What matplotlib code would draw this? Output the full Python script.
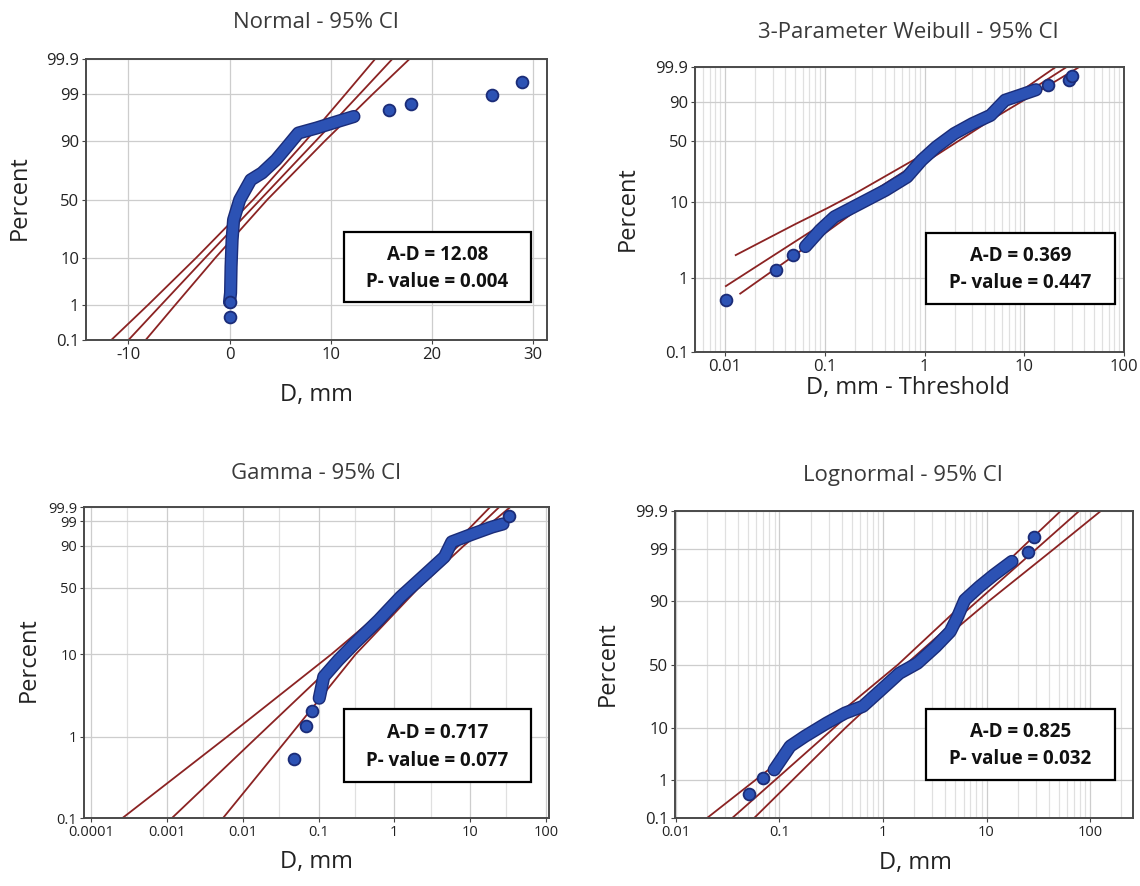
import numpy as np
import matplotlib
matplotlib.use("Agg")
import matplotlib.pyplot as plt
from matplotlib.patches import Rectangle
from matplotlib.ticker import LogLocator, NullFormatter, NullLocator
from statistics import NormalDist

plt.rcParams['font.family'] = ['Open Sans', 'DejaVu Sans']

# ---------------- data ----------------
# Normal - 95% CI
norm_band_x = [0.0, 0.1, 0.15, 0.25, 0.4, 1.0, 2.1, 3.2, 4.6, 5.7, 6.8, 8.6, 10.7, 12.3]
norm_band_pct = [1.2, 2.0, 7.0, 18.7, 32.7, 49.7, 66.7, 72.0, 80.9, 87.8, 92.8, 94.2, 95.7, 96.6]
norm_dot_x = [0.0, 0.0, 15.8, 17.9, 26.0, 28.9]
norm_dot_pct = [0.5, 1.2, 97.6, 98.2, 98.9, 99.5]
norm_line_pct = [0.1, 1, 10, 50, 90, 99, 99.9]
norm_fit_x = [-10.0, -6.8, -2.4, 3.05, 8.5, 12.9, 16.1]
norm_lo_x = [-11.7, -8.1, -3.3, 2.35, 7.5, 11.5, 14.4]
norm_hi_x = [-8.3, -5.4, -1.4, 3.75, 9.4, 14.2, 17.8]

# 3-Parameter Weibull - 95% CI
weib_band_x = [0.064, 0.090, 0.125, 0.225, 0.405, 0.668, 0.935, 1.31, 1.99, 3.02, 4.59, 6.42, 8.97, 13.1]
weib_band_pct = [2.6, 4.3, 6.4, 9.5, 14.0, 20.4, 31.8, 43.9, 58.3, 69.6, 78.6, 91.5, 94.3, 96.7]
weib_dot_x = [0.0102, 0.0328, 0.0479, 17.5, 27.8, 30.2]
weib_dot_pct = [0.5, 1.25, 2.0, 98.0, 99.06, 99.5]
weib_fit_x = [0.0102, 26.6]
weib_fit_pct = [0.77, 99.9]
weib_lo_x = [0.0128, 0.05, 0.106, 0.2, 1.0, 5.0, 20.7]
weib_lo_pct = [2.0, 5.1, 8.3, 12.7, 37.4, 84.2, 99.9]
weib_hi_x = [0.0142, 0.05, 0.2, 1.0, 5.0, 35.6]
weib_hi_pct = [0.61, 2.0, 7.5, 29.8, 75.9, 99.9]

# Gamma - 95% CI
gam_band_x = [0.102, 0.117, 0.182, 0.301, 0.62, 1.21, 2.36, 4.59, 5.73, 11.2, 19.5, 27.2]
gam_band_pct = [2.97, 5.4, 8.5, 13.4, 24.2, 41.6, 61.3, 81.3, 92.3, 96.1, 98.0, 98.6]
gam_dot_x = [0.048, 0.069, 0.082, 32.2]
gam_dot_pct = [0.53, 1.34, 2.08, 99.5]
gam_line_pct = [0.1, 1, 10, 50, 90, 99.9]
gam_fit_x = [1.16e-3, 0.0155, 0.219, 1.82, 7.05, 24.3]
gam_lo_x = [2.58e-4, 6.18e-3, 0.148, 1.59, 5.86, 18.4]
gam_hi_x = [5.48e-3, 0.0408, 0.309, 2.09, 8.28, 34.0]

# Lognormal - 95% CI
logn_band_x = [0.089, 0.127, 0.176, 0.286, 0.43, 0.64, 0.96, 1.44, 2.15, 3.23, 4.46, 5.24, 6.16, 8.5, 11.7, 17.6]
logn_band_pct = [1.7, 5.0, 7.4, 11.9, 16.4, 20.0, 30.5, 43.0, 51.0, 64.0, 74.6, 83.0, 90.3, 94.1, 96.4, 98.1]
logn_dot_x = [0.051, 0.070, 25.3, 29.0]
logn_dot_pct = [0.47, 1.1, 98.8, 99.5]
logn_line_pct = [0.1, 1, 10, 50, 90, 99, 99.9]
logn_fit_x = [0.035, 0.0908, 0.334, 1.66, 8.22, 30.3, 78.5]
logn_lo_x = [0.020, 0.0586, 0.254, 1.40, 6.38, 21.4, 52.0]
logn_hi_x = [0.057, 0.134, 0.431, 1.97, 10.6, 44.8, 127.0]

# goodness of fit text
stats = {
    'normal': ("A-D = 12.08", "P- value = 0.004"),
    'weibull': ("A-D = 0.369", "P- value = 0.447"),
    'gamma': ("A-D = 0.717", "P- value = 0.077"),
    'lognormal': ("A-D = 0.825", "P- value = 0.032"),
}

# ---------------- probability scales ----------------
_nd = NormalDist()


def norm_fwd(p):
    p = np.clip(np.asarray(p, dtype=float) / 100.0, 1e-9, 1 - 1e-9)
    return np.vectorize(_nd.inv_cdf, otypes=[float])(p)


def norm_inv(z):
    return 100.0 * np.vectorize(_nd.cdf, otypes=[float])(np.asarray(z, dtype=float))


def sev_fwd(p):
    p = np.clip(np.asarray(p, dtype=float) / 100.0, 1e-9, 1 - 1e-9)
    return np.log(-np.log1p(-p))


def sev_inv(w):
    return 100.0 * (-np.expm1(-np.exp(np.asarray(w, dtype=float))))


# ---------------- figure ----------------
W, H = 1140, 886
fig = plt.figure(figsize=(W / 100, H / 100), dpi=100)


def px_axes(x0, y0, x1, y1):
    return fig.add_axes([x0 / W, 1 - y1 / H, (x1 - x0) / W, (y1 - y0) / H])


def px_text(x, y, s, **kw):
    fig.text(x / W, 1 - y / H, s, ha='center', va='center', **kw)


BLUE = '#2c52b4'
NAVY = '#1b2c78'
RED = '#8b2323'
GRID = '#cdcdcd'
GRID_MINOR = '#e0e0e0'


def style_axes(ax, yticks, scale, tick_size):
    fwd, inv = scale
    ax.set_yscale('function', functions=(fwd, inv))
    ax.set_ylim(0.1, 99.9)
    ax.set_yticks(yticks, labels=[str(t) for t in yticks])
    ax.yaxis.set_minor_locator(NullLocator())
    for s in ax.spines.values():
        s.set_color('#4a4a4a')
        s.set_linewidth(1.4)
    ax.tick_params(which='major', length=3, width=0.8, color='#444444',
                   labelsize=tick_size, labelcolor='#222222', pad=2)
    ax.tick_params(which='minor', length=0)
    ax.grid(True, which='major', color=GRID, linewidth=0.9)
    ax.grid(True, which='minor', color=GRID_MINOR, linewidth=0.9)
    ax.set_axisbelow(True)


def draw_data(ax, bx, bp, dx, dp):
    ax.plot(bx, bp, color=NAVY, lw=9.5, solid_capstyle='round', solid_joinstyle='round', zorder=3)
    ax.plot(bx, bp, color=BLUE, lw=7.5, solid_capstyle='round', solid_joinstyle='round', zorder=3)
    ax.plot(dx, dp, 'o', ms=8.5, mfc=BLUE, mec=NAVY, mew=1.3, zorder=4)


def draw_lines(ax, lines):
    for x, p in lines:
        ax.plot(x, p, color=RED, lw=1.3, zorder=2)


def stat_box(ax, x0, y0, x1, y1, lines):
    ax.add_patch(Rectangle((x0, y0), x1 - x0, y1 - y0, transform=ax.transAxes,
                           facecolor='white', edgecolor='black', lw=1.6, zorder=6))
    cx = (x0 + x1) / 2
    h = y1 - y0
    ax.text(cx, y0 + 0.67 * h, lines[0], transform=ax.transAxes, ha='center', va='center',
            fontsize=13.5, fontweight='bold', color='#111111', zorder=7)
    ax.text(cx, y0 + 0.29 * h, lines[1], transform=ax.transAxes, ha='center', va='center',
            fontsize=13.5, fontweight='bold', color='#111111', zorder=7)


title_kw = dict(fontsize=16, color='#3a3a3a')
label_kw = dict(fontsize=17, color='#222222')

# Normal
ax = px_axes(86, 59, 547, 340)
style_axes(ax, [0.1, 1, 10, 50, 90, 99, 99.9], (norm_fwd, norm_inv), 12)
ax.set_xlim(-14.2, 31.4)
ax.set_xticks([-10, 0, 10, 20, 30], labels=['-10', '0', '10', '20', '30'])
draw_lines(ax, [(norm_lo_x, norm_line_pct), (norm_fit_x, norm_line_pct), (norm_hi_x, norm_line_pct)])
draw_data(ax, norm_band_x, norm_band_pct, norm_dot_x, norm_dot_pct)
stat_box(ax, 0.56, 0.135, 0.965, 0.384, stats['normal'])
px_text(316, 23, "Normal - 95% CI", **title_kw)
px_text(316, 395, "D, mm", **label_kw)
px_text(20, 198, "Percent", rotation=90, **label_kw)

# 3-Parameter Weibull
ax = px_axes(695, 67, 1124, 352)
style_axes(ax, [0.1, 1, 10, 50, 90, 99.9], (sev_fwd, sev_inv), 12)
ax.set_xscale('log')
ax.set_xlim(0.005, 100)
ax.set_xticks([0.01, 0.1, 1, 10, 100], labels=['0.01', '0.1', '1', '10', '100'])
ax.xaxis.set_minor_locator(LogLocator(base=10, subs=np.arange(2, 10)))
ax.xaxis.set_minor_formatter(NullFormatter())
draw_lines(ax, [(weib_lo_x, weib_lo_pct), (weib_fit_x, weib_fit_pct), (weib_hi_x, weib_hi_pct)])
draw_data(ax, weib_band_x, weib_band_pct, weib_dot_x, weib_dot_pct)
stat_box(ax, 0.538, 0.168, 0.979, 0.418, stats['weibull'])
px_text(908, 33, "3-Parameter Weibull - 95% CI", **title_kw)
px_text(908, 388, "D, mm - Threshold", **label_kw)
px_text(628, 209, "Percent", rotation=90, **label_kw)

# Gamma
ax = px_axes(84, 507, 549, 818)
style_axes(ax, [0.1, 1, 10, 50, 90, 99, 99.9], (sev_fwd, sev_inv), 10.5)
ax.set_xscale('log')
ax.set_xlim(8e-5, 110)
ax.set_xticks([1e-4, 1e-3, 1e-2, 0.1, 1, 10, 100],
              labels=['0.0001', '0.001', '0.01', '0.1', '1', '10', '100'])
ax.xaxis.set_minor_locator(LogLocator(base=10, subs=[3]))
ax.xaxis.set_minor_formatter(NullFormatter())
draw_lines(ax, [(gam_lo_x, gam_line_pct), (gam_fit_x, gam_line_pct), (gam_hi_x, gam_line_pct)])
draw_data(ax, gam_band_x, gam_band_pct, gam_dot_x, gam_dot_pct)
stat_box(ax, 0.559, 0.116, 0.961, 0.35, stats['gamma'])
px_text(316, 473, "Gamma - 95% CI", **title_kw)
px_text(316, 862, "D, mm", **label_kw)
px_text(29, 660, "Percent", rotation=90, **label_kw)

# Lognormal
ax = px_axes(675, 511, 1133, 818)
style_axes(ax, [0.1, 1, 10, 50, 90, 99, 99.9], (norm_fwd, norm_inv), 12)
ax.set_xscale('log')
ax.set_xlim(0.0098, 260)
ax.set_xticks([0.01, 0.1, 1, 10, 100], labels=['0.01', '0.1', '1', '10', '100'])
ax.xaxis.set_minor_locator(LogLocator(base=10, subs=np.arange(2, 10)))
ax.xaxis.set_minor_formatter(NullFormatter())
ax.tick_params(axis='x', labelsize=10.5)
draw_lines(ax, [(logn_lo_x, logn_line_pct), (logn_fit_x, logn_line_pct), (logn_hi_x, logn_line_pct)])
draw_data(ax, logn_band_x, logn_band_pct, logn_dot_x, logn_dot_pct)
stat_box(ax, 0.548, 0.124, 0.961, 0.355, stats['lognormal'])
px_text(903, 475, "Lognormal - 95% CI", **title_kw)
px_text(915, 863, "D, mm", **label_kw)
px_text(608, 664, "Percent", rotation=90, **label_kw)

plt.savefig("out.png", dpi=100)
